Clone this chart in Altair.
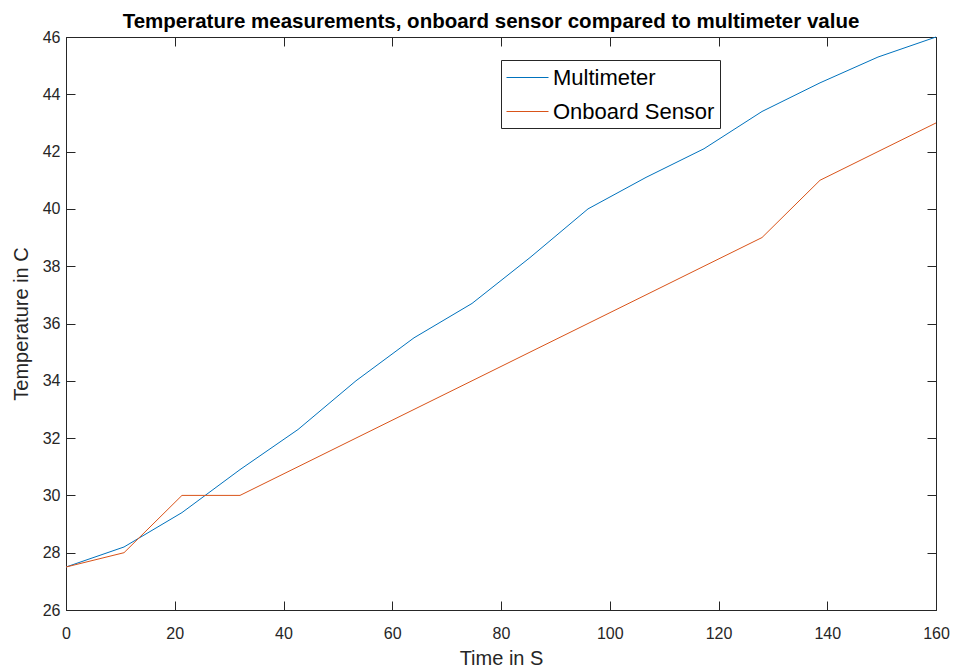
import altair as alt
import pandas as pd

# ---- data ----
time_s = [0, 10.67, 21.33, 32, 42.67, 53.33, 64, 74.67, 85.33, 96,
          106.67, 117.33, 128, 138.67, 149.33, 160]
multimeter = [27.5, 28.2, 29.4, 30.9, 32.3, 34.0, 35.5, 36.7, 38.3, 40.0,
              41.1, 42.1, 43.4, 44.4, 45.3, 46.0]
onboard = [27.5, 28.0, 30.0, 30.0, 31.0, 32.0, 33.0, 34.0, 35.0, 36.0,
           37.0, 38.0, 39.0, 41.0, 42.0, 43.0]
series_names = ["Multimeter", "Onboard Sensor"]
series_colors = ["#0072BD", "#D95319"]
x_ticks = [0, 20, 40, 60, 80, 100, 120, 140, 160]
y_ticks = [26, 28, 30, 32, 34, 36, 38, 40, 42, 44, 46]

rows = []
for name, vals in zip(series_names, [multimeter, onboard]):
    for t, v in zip(time_s, vals):
        rows.append({"time": t, "temp": v, "series": name})
df = pd.DataFrame(rows)

W, H = 870, 573
FONT = "Liberation Sans"
AX = "#262626"

common_axis = dict(labelFont=FONT, labelFontSize=16, labelColor=AX,
                   titleFont=FONT, titleFontSize=20, titleFontWeight="normal",
                   titleColor=AX, domainColor=AX, domainWidth=1,
                   grid=True, gridColor=AX, gridOpacity=1, gridWidth=1,
                   ticks=False, tickSize=0, labelFlush=False,
                   labelOverlap=False)

chart = alt.Chart(df).mark_line(strokeWidth=1).encode(
    x=alt.X("time:Q",
            scale=alt.Scale(domain=[0, 160], nice=False, zero=False),
            axis=alt.Axis(values=x_ticks, title="Time in S",
                          gridDash=[9, H - 18], labelPadding=15,
                          titlePadding=7, **common_axis)),
    y=alt.Y("temp:Q",
            scale=alt.Scale(domain=[26, 46], nice=False, zero=False),
            axis=alt.Axis(values=y_ticks, title="Temperature in C",
                          gridDash=[9, W - 18], labelPadding=6,
                          titlePadding=11, **common_axis)),
    color=alt.Color("series:N",
                    scale=alt.Scale(domain=series_names, range=series_colors),
                    legend=alt.Legend(orient="none", legendX=435, legendY=23,
                                      title=None, symbolType="M-1,0H2.5",
                                      symbolSize=576, symbolStrokeWidth=1,
                                      labelFont=FONT, labelFontSize=22,
                                      labelColor="#000", labelOffset=22,
                                      labelLimit=400,
                                      fillColor="white", strokeColor=AX,
                                      padding=5, rowPadding=10)),
).properties(
    width=W, height=H,
    title=alt.TitleParams(
        text="Temperature measurements, onboard sensor compared to multimeter value",
        font=FONT, fontSize=20.5, fontWeight="bold", color="#000",
        anchor="middle", offset=-3, dx=-10),
    autosize=alt.AutoSizeParams(type="none"),
    padding={"left": 66, "top": 37, "right": 18, "bottom": 61},
    background="white",
).configure_view(
    stroke=AX, strokeWidth=1
)

chart.save("out.html", embed_options={"renderer": "svg", "actions": False})
